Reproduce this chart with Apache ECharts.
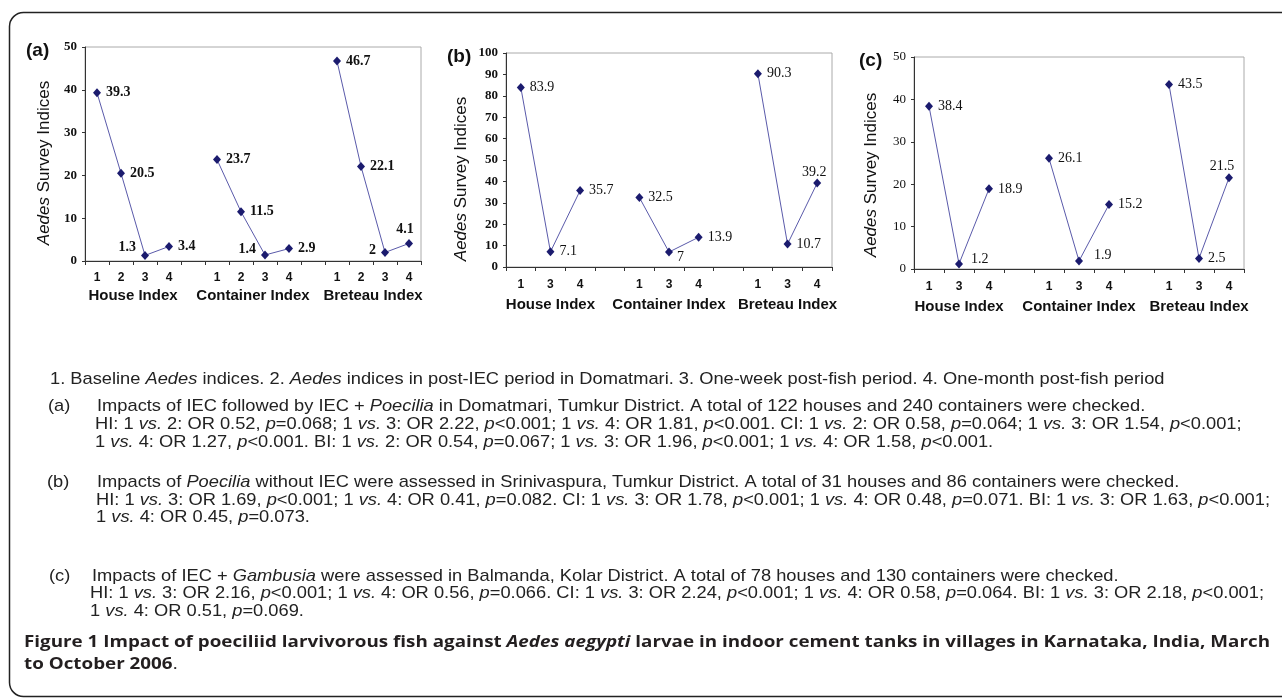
<!DOCTYPE html>
<html><head><meta charset="utf-8">
<script src="https://cdn.jsdelivr.net/npm/echarts@6/dist/echarts.min.js"></script>
<style>html,body{margin:0;padding:0;background:#fff}#c{width:1282px;height:698px}</style>
</head><body><div id="c"></div>
<script>
// ---------- data ----------
const periodsA = ['1', '2', '3', '4'];
const periodsBC = ['1', '3', '4'];
const groupNames = ['House Index', 'Container Index', 'Breteau Index'];

const houseA = [39.3, 20.5, 1.3, 3.4];
const containerA = [23.7, 11.5, 1.4, 2.9];
const breteauA = [46.7, 22.1, 2, 4.1];

const houseB = [83.9, 7.1, 35.7];
const containerB = [32.5, 7, 13.9];
const breteauB = [90.3, 10.7, 39.2];

const houseC = [38.4, 1.2, 18.9];
const containerC = [26.1, 1.9, 15.2];
const breteauC = [43.5, 2.5, 21.5];

const yMaxA = 50, yMaxB = 100, yMaxC = 50, yStep = 10;
const panelTags = ['(a)', '(b)', '(c)'];
const yTitle = '{i|Aedes} Survey Indices';

const captionTexts = [
  '1. Baseline {i|Aedes} indices. 2. {i|Aedes} indices in post-IEC period in Domatmari. 3. One-week post-fish period. 4. One-month post-fish period',
  '(a)',
  'Impacts of IEC followed by IEC + {i|Poecilia} in Domatmari, Tumkur District. A total of 122 houses and 240 containers were checked.',
  'HI: 1 {i|vs.} 2: OR 0.52, {i|p}=0.068; 1 {i|vs.} 3: OR 2.22, {i|p}<0.001; 1 {i|vs.} 4: OR 1.81, {i|p}<0.001. CI: 1 {i|vs.} 2: OR 0.58, {i|p}=0.064; 1 {i|vs.} 3: OR 1.54, {i|p}<0.001;',
  '1 {i|vs.} 4: OR 1.27, {i|p}<0.001. BI: 1 {i|vs.} 2: OR 0.54, {i|p}=0.067; 1 {i|vs.} 3: OR 1.96, {i|p}<0.001; 1 {i|vs.} 4: OR 1.58, {i|p}<0.001.',
  '(b)',
  'Impacts of {i|Poecilia} without IEC were assessed in Srinivaspura, Tumkur District. A total of 31 houses and 86 containers were checked.',
  'HI: 1 {i|vs.} 3: OR 1.69, {i|p}<0.001; 1 {i|vs.} 4: OR 0.41, {i|p}=0.082. CI: 1 {i|vs.} 3: OR 1.78, {i|p}<0.001; 1 {i|vs.} 4: OR 0.48, {i|p}=0.071. BI: 1 {i|vs.} 3: OR 1.63, {i|p}<0.001;',
  '1 {i|vs.} 4: OR 0.45, {i|p}=0.073.',
  '(c)',
  'Impacts of IEC + {i|Gambusia} were assessed in Balmanda, Kolar District. A total of 78 houses and 130 containers were checked.',
  'HI: 1 {i|vs.} 3: OR 2.16, {i|p}<0.001; 1 {i|vs.} 4: OR 0.56, {i|p}=0.066. CI: 1 {i|vs.} 3: OR 2.24, {i|p}<0.001; 1 {i|vs.} 4: OR 0.58, {i|p}=0.064. BI: 1 {i|vs.} 3: OR 2.18, {i|p}<0.001;',
  '1 {i|vs.} 4: OR 0.51, {i|p}=0.069.'
];
const figureTexts = [
  '{b|Figure 1 Impact of poeciliid larvivorous fish against }{bi|Aedes aegypti}{b| larvae in indoor cement tanks in villages in Karnataka, India, March}',
  '{b|to October 2006}.'
];

// ---------- layout / style ----------
const captionPos = [[50,379],[48,406],[97,406],[95,424],[95,442],[47,482],[97,482],[96,500],[96,517],[49,576],[92,576],[90,593],[90,611]];
const figurePos = [[24,642],[24,664]];
const grids = [
  {left: 85, top: 47, width: 336, height: 214},
  {left: 506, top: 53, width: 326, height: 214},
  {left: 914, top: 57, width: 330, height: 212}
];
const tagPos = [[26,51],[447,57],[859,61]];
const labelTweaks = [
  {2: {position: 'left', offset: [0, -8]}, 7: {position: 'left', offset: [0, -6]}, 12: {position: 'left', offset: [0, -2]}, 13: {position: 'top', distance: 3, offset: [-4, 0]}},
  {5: {offset: [-1, 5]}, 10: {position: 'top', distance: 2, offset: [-3, 3]}},
  {1: {offset: [3, -5]}, 5: {offset: [6, -6]}, 10: {position: 'top', distance: 2, offset: [-7, 2]}}
];
const sans = 'Liberation Sans, Arial, sans-serif';
const serif = 'Liberation Serif, Times New Roman, serif';
const markColor = '#1b1b6e', lineColor = '#5a5aaa', axisColor = '#333';

function joinGroups(groups, gap) {
  const out = [];
  groups.forEach((g, i) => { if (i) out.push(gap); out.push(...g); });
  return out;
}

const panels = [
  {cats: joinGroups([periodsA, periodsA, periodsA], ''), vals: joinGroups([houseA, containerA, breteauA], '-'), gsize: periodsA.length, yMax: yMaxA,
   bold: true, catMargin: 11, nameMargin: 27, nameGap: 32, namePad: 18},
  {cats: joinGroups([periodsBC, periodsBC, periodsBC], ''), vals: joinGroups([houseB, containerB, breteauB], '-'), gsize: periodsBC.length, yMax: yMaxB,
   bold: true, catMargin: 12, nameMargin: 30, nameGap: 36, namePad: 38},
  {cats: joinGroups([periodsBC, periodsBC, periodsBC], ''), vals: joinGroups([houseC, containerC, breteauC], '-'), gsize: periodsBC.length, yMax: yMaxC,
   bold: false, catMargin: 12, nameMargin: 30, nameGap: 34, namePad: 24}
];

const xAxis = [], yAxis = [], series = [];
panels.forEach((p, k) => {
  const n = p.cats.length;
  const centers = groupNames.map((_, g) => g * (p.gsize + 1) + p.gsize / 2);
  xAxis.push({
    type: 'category', gridIndex: k, data: p.cats, boundaryGap: true,
    axisLine: {lineStyle: {color: axisColor, width: 1}},
    axisTick: {show: true, length: 4, interval: 0, lineStyle: {color: axisColor}},
    axisLabel: {interval: 0, margin: p.catMargin, fontFamily: sans, fontWeight: 'bold', fontSize: 12, color: '#111'},
    splitLine: {show: false}
  });
  xAxis.push({
    type: 'value', gridIndex: k, position: 'bottom', min: 0, max: n, interval: p.gsize % 2 ? 0.5 : 1,
    axisLine: {show: false}, axisTick: {show: false}, splitLine: {show: false},
    axisLabel: {margin: p.nameMargin, fontFamily: sans, fontWeight: 'bold', fontSize: 15, color: '#111',
      formatter: v => { const i = centers.findIndex(c => Math.abs(c - v) < 1e-6); return i >= 0 ? groupNames[i] : ''; }}
  });
  yAxis.push({
    type: 'value', gridIndex: k, min: 0, max: p.yMax, interval: yStep,
    axisLine: {show: true, lineStyle: {color: axisColor, width: 1}},
    axisTick: {show: true, length: 3, lineStyle: {color: axisColor}},
    axisLabel: {margin: 8, fontFamily: serif, fontWeight: p.bold ? 'bold' : 'normal', fontSize: 13, color: '#111'},
    splitLine: {show: false},
    name: yTitle, nameLocation: 'middle', nameRotate: 90, nameGap: p.nameGap,
    nameTextStyle: {fontFamily: sans, fontSize: 17, color: '#111', padding: [0, p.namePad, 0, 0],
      rich: {i: {fontFamily: sans, fontSize: 17, fontStyle: 'italic', color: '#111'}}}
  });
  const tw = labelTweaks[k];
  series.push({
    type: 'line', xAxisIndex: k * 2, yAxisIndex: k, connectNulls: false,
    symbol: 'diamond', symbolSize: [8, 9],
    itemStyle: {color: markColor},
    lineStyle: {color: lineColor, width: 1},
    label: {show: true, position: 'right', distance: 5, fontFamily: serif, fontSize: 14,
      fontWeight: p.bold && k === 0 ? 'bold' : 'normal', color: '#111'},
    emphasis: {disabled: true},
    data: p.vals.map((v, i) => v === '-' ? '-' : (tw[i] ? {value: v, label: tw[i]} : v))
  });
});

// ---------- text measuring for caption fitting ----------
const ctx = document.createElement('canvas').getContext('2d');
function measureRich(str, size, family, baseWeight, styles) {
  let w = 0;
  const re = /\{(\w+)\|([^}]*)\}/g; let last = 0, m;
  const meas = (t, st) => { ctx.font = `${st.italic ? 'italic ' : ''}${st.weight || baseWeight} ${size}px ${family}`; return ctx.measureText(t).width; };
  while ((m = re.exec(str))) {
    w += meas(str.slice(last, m.index), {});
    w += meas(m[2], styles[m[1]] || {});
    last = re.lastIndex;
  }
  w += meas(str.slice(last), {});
  return w;
}

const bodySize = 17;
const bodyRef = measureRich(captionTexts[7], bodySize, 'Liberation Sans', 'normal', {i: {italic: true}});
const bodyScale = (1270 - captionPos[7][0]) / bodyRef;
const figFamily = 'Open Sans';
const figSize = 16.5;
const figRef = measureRich(figureTexts[0], figSize, figFamily, 'normal', {b: {weight: 'bold'}, bi: {weight: 'bold', italic: true}});
const figScale = (1270 - figurePos[0][0]) / figRef;

const graphic = [];
graphic.push({type: 'rect', z: 0, silent: true, shape: {x: 9.5, y: 12.5, width: 1320, height: 684, r: 14},
  style: {fill: 'none', stroke: '#222', lineWidth: 1.5}});
panelTags.forEach((t, k) => graphic.push({type: 'text', x: tagPos[k][0], y: tagPos[k][1], silent: true,
  style: {text: t, fontFamily: sans, fontWeight: 'bold', fontSize: 19, fill: '#111', align: 'left', verticalAlign: 'middle'}}));
captionTexts.forEach((t, i) => graphic.push({type: 'text', x: captionPos[i][0], y: captionPos[i][1], scaleX: bodyScale, silent: true,
  style: {text: t, fontFamily: sans, fontSize: bodySize, fill: '#222', align: 'left', verticalAlign: 'middle',
    rich: {i: {fontFamily: sans, fontSize: bodySize, fontStyle: 'italic', fill: '#222'}}}}));
figureTexts.forEach((t, i) => graphic.push({type: 'text', x: figurePos[i][0], y: figurePos[i][1], scaleX: figScale, silent: true,
  style: {text: t, fontFamily: figFamily, fontSize: figSize, fill: '#231f20', align: 'left', verticalAlign: 'middle',
    rich: {b: {fontFamily: figFamily, fontSize: figSize, fontWeight: 'bold', fill: '#231f20'},
           bi: {fontFamily: figFamily, fontSize: figSize, fontWeight: 'bold', fontStyle: 'italic', fill: '#231f20'}}}}));

const chart = echarts.init(document.getElementById('c'), null, {renderer: 'canvas'});
chart.setOption({
  animation: false,
  backgroundColor: '#fff',
  grid: grids.map(g => Object.assign({show: true, borderColor: '#aaaaaa', borderWidth: 1, backgroundColor: 'transparent', containLabel: false}, g)),
  xAxis, yAxis, series, graphic
});
</script></body></html>
